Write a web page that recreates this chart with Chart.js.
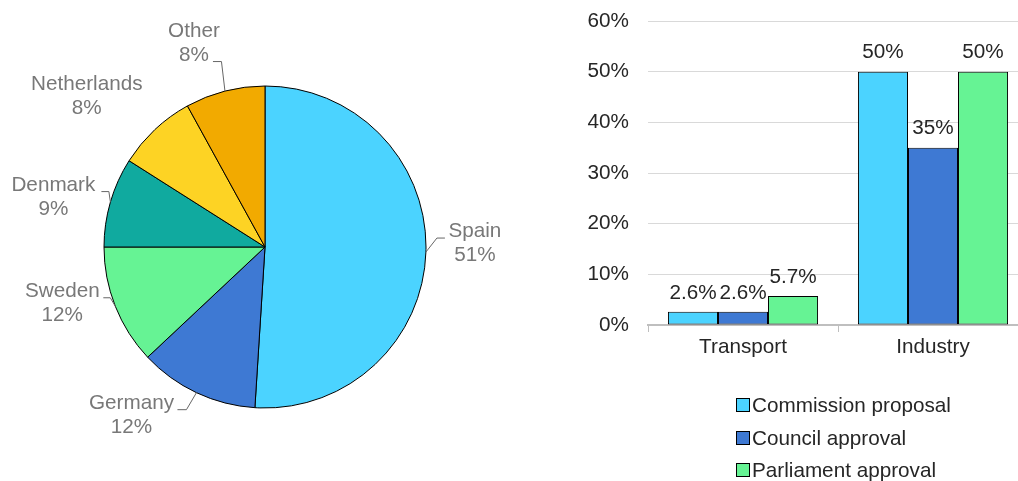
<!DOCTYPE html>
<html>
<head>
<meta charset="utf-8">
<script src="https://cdn.jsdelivr.net/npm/chart.js@4.4.1/dist/chart.umd.min.js"></script>
<style>
  html, body { margin: 0; padding: 0; background: #fff; overflow: hidden; }
  #wrap { position: relative; width: 1018px; height: 481px; overflow: hidden; }
  #pieChart { position: absolute; left: 0; top: 0; }
  #barChart { position: absolute; left: 578px; top: 0; }
  #legend { position: absolute; left: 736px; top: 389px; font: 20.7px "Liberation Sans", Arial, sans-serif; color: #262626; }
  #legend .row { height: 32.5px; display: flex; align-items: center; white-space: nowrap; }
  #legend .sw { width: 12px; height: 12px; border: 1px solid #000; margin-right: 2px; }
</style>
</head>
<body>
<div id="wrap">
  <canvas id="pieChart" width="530" height="481"></canvas>
  <canvas id="barChart" width="450" height="400"></canvas>
  <div id="legend"></div>
</div>
<script>
// pie: share by country
const countries = ['Spain', 'Germany', 'Sweden', 'Denmark', 'Netherlands', 'Other'];
const shares = [51, 12, 12, 9, 8, 8];
const pieColors = ['#4BD3FF', '#3E79D3', '#66F394', '#10AA9F', '#FDD324', '#F2AA00'];

// bars: targets per sector
const sectors = ['Transport', 'Industry'];
const commission = [2.6, 50];
const council = [2.6, 35];
const parliament = [5.7, 50];
const yTicks = [0, 10, 20, 30, 40, 50, 60];

const FONT = '"Liberation Sans", Arial, sans-serif';
Chart.defaults.font.family = FONT;
Chart.defaults.font.size = 20.7;

// labels outside the pie with small leader lines
const callouts = {
  id: 'callouts',
  afterDatasetsDraw(chart, args, opts) {
    const ctx = chart.ctx;
    const meta = chart.getDatasetMeta(0);
    const data = chart.data.datasets[0].data;
    ctx.save();
    ctx.font = '20.7px ' + FONT;
    ctx.textAlign = 'center';
    ctx.textBaseline = 'middle';
    ctx.strokeStyle = '#666';
    ctx.lineWidth = 1;
    meta.data.forEach((arc, i) => {
      const p = arc.getProps(['x', 'y', 'startAngle', 'endAngle', 'outerRadius'], true);
      const mid = (p.startAngle + p.endAngle) / 2;
      const ax = p.x + Math.cos(mid) * p.outerRadius;
      const ay = p.y + Math.sin(mid) * p.outerRadius;
      const lead = opts.leaders[i];
      if (lead) {
        ctx.beginPath();
        ctx.moveTo(ax, ay);
        ctx.lineTo(ax + lead[0], ay + lead[1]);
        ctx.lineTo(ax + lead[2], ay + lead[1]);
        ctx.stroke();
      }
      const [dx, dy] = opts.offsets[i];
      ctx.fillStyle = '#787878';
      ctx.fillText(chart.data.labels[i], ax + dx, ay + dy - 12);
      ctx.fillText(data[i] + '%', ax + dx, ay + dy + 12);
    });
    ctx.restore();
  }
};

new Chart(document.getElementById('pieChart'), {
  type: 'pie',
  data: {
    labels: countries,
    datasets: [{
      data: shares,
      backgroundColor: pieColors,
      borderColor: '#000',
      borderWidth: 1,
      hoverOffset: 0,
      radius: 161
    }]
  },
  options: {
    responsive: false,
    animation: false,
    layout: { padding: { top: 13 } },
    plugins: {
      legend: { display: false },
      tooltip: { enabled: false },
      callouts: {
        offsets: [[49, -9], [-65, 23], [-53, -2.5], [-57, -5], [-68, -33], [-31, -48]],
        leaders: [[11, -14, 19], [-10, 17, -19], [-5, -8.5, -12], [-1.5, -10.5, -9], null, [-3.5, -29.5, -12]]
      }
    }
  },
  plugins: [callouts]
});

// value labels above the bars
const barValues = {
  id: 'barValues',
  afterDatasetsDraw(chart) {
    const ctx = chart.ctx;
    ctx.save();
    ctx.font = '20.7px ' + FONT;
    ctx.fillStyle = '#262626';
    ctx.textAlign = 'center';
    ctx.textBaseline = 'middle';
    chart.data.datasets.forEach((ds, d) => {
      chart.getDatasetMeta(d).data.forEach((bar, i) => {
        ctx.fillText(ds.data[i] + '%', bar.x, bar.y - 19);
      });
    });
    ctx.restore();
  }
};

const barChart = new Chart(document.getElementById('barChart'), {
  type: 'bar',
  data: {
    labels: sectors,
    datasets: [
      { label: 'Commission proposal', data: commission, backgroundColor: '#4BD3FF' },
      { label: 'Council approval', data: council, backgroundColor: '#3E79D3' },
      { label: 'Parliament approval', data: parliament, backgroundColor: '#66F394' }
    ]
  },
  options: {
    responsive: false,
    animation: false,
    layout: { padding: { top: 21, bottom: 35, left: 0, right: 0 } },
    datasets: {
      bar: {
        categoryPercentage: 0.79,
        barPercentage: 1,
        borderColor: '#000',
        borderWidth: 1,
        borderSkipped: false
      }
    },
    scales: {
      x: {
        grid: { drawOnChartArea: false, drawTicks: true, tickLength: 7, color: '#bfbfbf' },
        border: { color: '#bfbfbf', width: 2 },
        ticks: { color: '#262626', padding: 3 },
        afterFit: s => { s.height = 40; }
      },
      y: {
        min: 0,
        max: 60,
        grid: { color: '#d9d9d9', lineWidth: 1, drawTicks: false },
        border: { display: false },
        ticks: { color: '#262626', padding: 19, callback: v => v + '%' },
        afterBuildTicks: s => { s.ticks = yTicks.map(v => ({ value: v })); },
        afterFit: s => { s.width = 70; s.paddingTop = 0; s.paddingBottom = 0; }
      }
    },
    plugins: {
      legend: { display: false },
      tooltip: { enabled: false }
    }
  },
  plugins: [barValues]
});

// legend stacked under the bars
const legendBox = document.getElementById('legend');
barChart.data.datasets.forEach(ds => {
  const row = document.createElement('div');
  row.className = 'row';
  const sw = document.createElement('span');
  sw.className = 'sw';
  sw.style.background = ds.backgroundColor;
  row.appendChild(sw);
  row.appendChild(document.createTextNode(ds.label));
  legendBox.appendChild(row);
});
</script>
</body>
</html>
